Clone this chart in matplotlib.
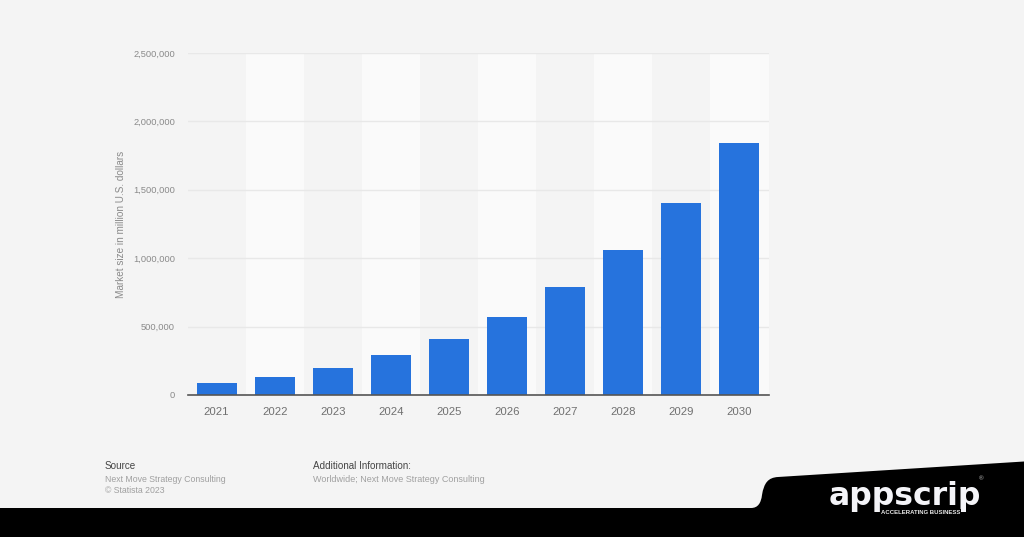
import matplotlib
matplotlib.use("Agg")
import matplotlib.pyplot as plt
from matplotlib.patches import PathPatch, Rectangle
from matplotlib.path import Path

years = ["2021", "2022", "2023", "2024", "2025", "2026", "2027", "2028", "2029", "2030"]
market_size = [87000, 131000, 197000, 292000, 410000, 570000, 790000, 1060000, 1405000, 1840000]
y_ticks = [0, 500000, 1000000, 1500000, 2000000, 2500000]

W, H = 1024, 537
BG = "#f4f4f4"
BLUE = "#2673dd"

plt.rcParams["font.family"] = ["Liberation Sans", "DejaVu Sans"]

fig = plt.figure(figsize=(W / 100, H / 100), dpi=100, facecolor=BG)

# page overlay in pixel coordinates, y pointing down
page = fig.add_axes([0, 0, 1, 1], zorder=3)
page.set_xlim(0, W)
page.set_ylim(H, 0)
page.axis("off")
page.patch.set_alpha(0)

ax = fig.add_axes([187.5 / W, (H - 395) / H, 581 / W, 342 / H], zorder=2)
ax.set_facecolor(BG)

x = range(len(years))
for i in x:
    if i % 2 == 1:
        ax.axvspan(i - 0.5, i + 0.5, color="#fafafa", lw=0, zorder=0)

ax.set_axisbelow(True)
ax.yaxis.grid(True, color="#e8e8e8", lw=1)
ax.bar(x, market_size, width=0.69, color=BLUE, zorder=3)

ax.set_xlim(-0.5, 9.5)
ax.set_ylim(0, 2500000)
ax.set_xticks(list(x))
ax.set_xticklabels(years)
ax.set_yticks(y_ticks)
ax.set_yticklabels([f"{v:,}" for v in y_ticks])
ax.tick_params(axis="x", length=0, pad=8.5, labelsize=8.2, labelcolor="#707070")
ax.tick_params(axis="y", length=0, pad=9, labelsize=6.7, labelcolor="#8a8a8a")
for side in ["top", "right", "left"]:
    ax.spines[side].set_visible(False)
ax.spines["bottom"].set_color("#555555")
ax.spines["bottom"].set_linewidth(1.2)
ax.spines["bottom"].set_zorder(4)

page.text(120.5, 224, "Market size in million U.S. dollars", rotation=90, fontsize=7.2,
          color="#8a8a8a", ha="center", va="center")

# source / additional info block
page.text(105, 466, "Source", fontsize=7.1, color="#444444", va="center")
page.text(105, 479, "Next Move Strategy Consulting", fontsize=6.3, color="#a0a0a0", va="center")
page.text(105, 490.5, "© Statista 2023", fontsize=6.3, color="#a0a0a0", va="center")
page.text(313, 466, "Additional Information:", fontsize=7.1, color="#444444", va="center")
page.text(313, 479, "Worldwide; Next Move Strategy Consulting", fontsize=6.5, color="#a0a0a0", va="center")

# black footer band with the notch
codes = [Path.MOVETO, Path.LINETO, Path.CURVE4, Path.CURVE4, Path.CURVE4, Path.CURVE4, Path.CURVE4, Path.CURVE4,
         Path.LINETO, Path.LINETO, Path.LINETO, Path.CLOSEPOLY]
verts = [(0, 508), (751, 508), (758, 508), (761, 503), (762, 495), (764, 483), (768, 477.6), (778, 477),
         (1024, 461.5), (1024, 537), (0, 537), (0, 508)]
page.add_patch(PathPatch(Path(verts, codes), facecolor="black", edgecolor="none"))

# logo
page.text(829, 505, "appscrip", fontsize=22.7, fontweight="bold", color="#f4f4f8",
          family=["DejaVu Sans"], va="baseline", ha="left")
page.add_patch(Rectangle((881, 508.5), 80, 8, facecolor="black", edgecolor="none", zorder=4))
page.text(921, 513, "ACCELERATING BUSINESS", fontsize=4.3, fontweight="bold", color="#e8e8e8",
          ha="center", va="center", zorder=5)
page.text(981, 478.5, "®", fontsize=4.5, color="#cccccc", ha="center", va="center")

fig.savefig("out.png", dpi=100, facecolor=BG)
